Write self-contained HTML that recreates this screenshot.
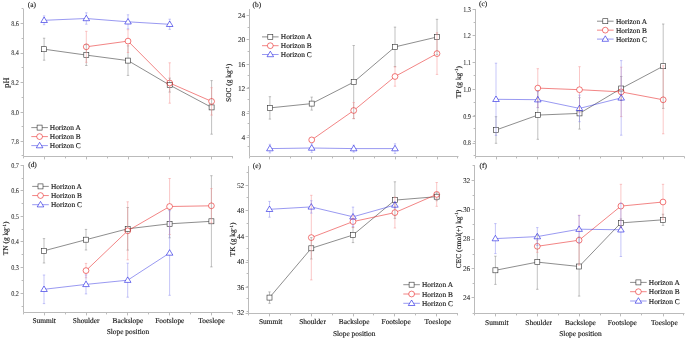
<!DOCTYPE html>
<html><head><meta charset="utf-8"><style>
html,body{margin:0;padding:0;background:#fff;width:685px;height:338px;overflow:hidden}
svg{display:block;text-rendering:geometricPrecision;will-change:transform}
text{font-family:"Liberation Serif", serif;fill:#1a1a1a;stroke:#1a1a1a;stroke-width:0.15px}
text.tl{stroke-width:0.05px;fill:#222;stroke:#222}
</style></head><body>
<svg width="685" height="338" viewBox="0 0 685 338" font-family="'Liberation Serif', serif" font-size="7.4" fill="#222">
<path d="M23.5,9 V156.5 H233" fill="none" stroke="#bbbbbb" stroke-width="1.0"/>
<text class="tl" transform="translate(18.90,26.00) scale(0.84,1)" text-anchor="end">8.6</text>
<text class="tl" transform="translate(18.90,55.40) scale(0.84,1)" text-anchor="end">8.4</text>
<text class="tl" transform="translate(18.90,85.10) scale(0.84,1)" text-anchor="end">8.2</text>
<text class="tl" transform="translate(18.90,114.80) scale(0.84,1)" text-anchor="end">8.0</text>
<text class="tl" transform="translate(18.90,143.80) scale(0.84,1)" text-anchor="end">7.8</text>
<path d="M23.5,23.50 h-2.9 M23.5,53.50 h-2.9 M23.5,82.50 h-2.9 M23.5,112.50 h-2.9 M23.5,141.50 h-2.9 M23.5,8.50 h-1.9 M23.5,38.50 h-1.9 M23.5,67.50 h-1.9 M23.5,97.50 h-1.9 M23.5,126.50 h-1.9 M23.5,155.50 h-1.9 M44.50,156.5 v2.9 M86.50,156.5 v2.9 M128.50,156.5 v2.9 M169.50,156.5 v2.9 M211.50,156.5 v2.9 M65.50,156.5 v1.9 M107.50,156.5 v1.9 M148.50,156.5 v1.9 M190.50,156.5 v1.9 M232.50,156.5 v1.9 M23.5,156.5 v1.9" stroke="#bbbbbb" stroke-width="1.0"/>
<text transform="translate(8.60,82.50) rotate(-90)" text-anchor="middle"><tspan font-size="8.4">pH</tspan></text>
<text x="27.8" y="7.0">(a)</text>
<mask id="maA" maskUnits="userSpaceOnUse" x="0" y="0" width="685" height="338"><rect width="685" height="338" fill="#fff"/><rect x="41.60" y="46.70" width="5.0" height="5.0" fill="#000"/><rect x="83.80" y="52.60" width="5.0" height="5.0" fill="#000"/><rect x="125.50" y="58.10" width="5.0" height="5.0" fill="#000"/><rect x="167.20" y="82.60" width="5.0" height="5.0" fill="#000"/><rect x="209.10" y="104.90" width="5.0" height="5.0" fill="#000"/><rect x="37.10" y="125.10" width="5.0" height="5.0" fill="#000"/></mask>
<g mask="url(#maA)">
<path d="M44.10,38.20 V60.20 M42.90,38.20 h2.4 M42.90,60.20 h2.4 M86.30,44.70 V65.50 M85.10,44.70 h2.4 M85.10,65.50 h2.4 M128.00,45.80 V75.40 M126.80,45.80 h2.4 M126.80,75.40 h2.4 M169.70,78.10 V92.10 M168.50,78.10 h2.4 M168.50,92.10 h2.4 M211.60,80.60 V134.20 M210.40,80.60 h2.4 M210.40,134.20 h2.4" stroke="#838383" stroke-width="0.5" fill="none"/>
<polyline points="44.10,49.20 86.30,55.10 128.00,60.60 169.70,85.10 211.60,107.40" fill="none" stroke="#303030" stroke-width="0.55"/>
<path d="M31.30,127.60 h16.6" stroke="#303030" stroke-width="0.55"/>
</g>
<rect x="41.60" y="46.70" width="5.0" height="5.0" fill="none" stroke="#303030" stroke-width="0.6"/>
<rect x="83.80" y="52.60" width="5.0" height="5.0" fill="none" stroke="#303030" stroke-width="0.6"/>
<rect x="125.50" y="58.10" width="5.0" height="5.0" fill="none" stroke="#303030" stroke-width="0.6"/>
<rect x="167.20" y="82.60" width="5.0" height="5.0" fill="none" stroke="#303030" stroke-width="0.6"/>
<rect x="209.10" y="104.90" width="5.0" height="5.0" fill="none" stroke="#303030" stroke-width="0.6"/>
<rect x="37.10" y="125.10" width="5.0" height="5.0" fill="none" stroke="#303030" stroke-width="0.6"/>
<mask id="maB" maskUnits="userSpaceOnUse" x="0" y="0" width="685" height="338"><rect width="685" height="338" fill="#fff"/><circle cx="86.30" cy="46.80" r="2.9" fill="#000"/><circle cx="128.00" cy="41.10" r="2.9" fill="#000"/><circle cx="169.70" cy="83.00" r="2.9" fill="#000"/><circle cx="211.60" cy="101.40" r="2.9" fill="#000"/><circle cx="39.60" cy="136.60" r="2.9" fill="#000"/></mask>
<g mask="url(#maB)">
<path d="M86.30,31.30 V62.30 M85.10,31.30 h2.4 M85.10,62.30 h2.4 M128.00,29.70 V52.50 M126.80,29.70 h2.4 M126.80,52.50 h2.4 M169.70,62.80 V103.20 M168.50,62.80 h2.4 M168.50,103.20 h2.4 M211.60,87.70 V115.10 M210.40,87.70 h2.4 M210.40,115.10 h2.4" stroke="#f48f8f" stroke-width="0.5" fill="none"/>
<polyline points="86.30,46.80 128.00,41.10 169.70,83.00 211.60,101.40" fill="none" stroke="#e82020" stroke-width="0.55"/>
<path d="M31.30,136.60 h16.6" stroke="#e82020" stroke-width="0.55"/>
</g>
<circle cx="86.30" cy="46.80" r="2.9" fill="none" stroke="#e82020" stroke-width="0.6"/>
<circle cx="128.00" cy="41.10" r="2.9" fill="none" stroke="#e82020" stroke-width="0.6"/>
<circle cx="169.70" cy="83.00" r="2.9" fill="none" stroke="#e82020" stroke-width="0.6"/>
<circle cx="211.60" cy="101.40" r="2.9" fill="none" stroke="#e82020" stroke-width="0.6"/>
<circle cx="39.60" cy="136.60" r="2.9" fill="none" stroke="#e82020" stroke-width="0.6"/>
<mask id="maC" maskUnits="userSpaceOnUse" x="0" y="0" width="685" height="338"><rect width="685" height="338" fill="#fff"/><path d="M44.10,17.00 L47.40,22.50 L40.80,22.50 Z" fill="#000"/><path d="M86.30,15.20 L89.60,20.70 L83.00,20.70 Z" fill="#000"/><path d="M128.00,18.50 L131.30,24.00 L124.70,24.00 Z" fill="#000"/><path d="M169.70,21.00 L173.00,26.50 L166.40,26.50 Z" fill="#000"/><path d="M39.60,142.30 L42.90,147.80 L36.30,147.80 Z" fill="#000"/></mask>
<g mask="url(#maC)">
<path d="M44.10,15.90 V24.70 M42.90,15.90 h2.4 M42.90,24.70 h2.4 M86.30,12.80 V24.20 M85.10,12.80 h2.4 M85.10,24.20 h2.4 M128.00,14.80 V28.80 M126.80,14.80 h2.4 M126.80,28.80 h2.4 M169.70,19.20 V29.40 M168.50,19.20 h2.4 M168.50,29.40 h2.4" stroke="#8c8cf0" stroke-width="0.5" fill="none"/>
<polyline points="44.10,20.30 86.30,18.50 128.00,21.80 169.70,24.30" fill="none" stroke="#1a1ae0" stroke-width="0.45"/>
<path d="M31.30,145.60 h16.6" stroke="#1a1ae0" stroke-width="0.45"/>
</g>
<path d="M44.10,17.00 L47.40,22.50 L40.80,22.50 Z" fill="none" stroke="#1a1ae0" stroke-width="0.6"/>
<path d="M86.30,15.20 L89.60,20.70 L83.00,20.70 Z" fill="none" stroke="#1a1ae0" stroke-width="0.6"/>
<path d="M128.00,18.50 L131.30,24.00 L124.70,24.00 Z" fill="none" stroke="#1a1ae0" stroke-width="0.6"/>
<path d="M169.70,21.00 L173.00,26.50 L166.40,26.50 Z" fill="none" stroke="#1a1ae0" stroke-width="0.6"/>
<path d="M39.60,142.30 L42.90,147.80 L36.30,147.80 Z" fill="none" stroke="#1a1ae0" stroke-width="0.6"/>
<text x="49.8" y="130.10">Horizon A</text>
<text x="49.8" y="139.10">Horizon B</text>
<text x="49.8" y="148.10">Horizon C</text>
<path d="M249.5,9 V156.5 H458.5" fill="none" stroke="#bbbbbb" stroke-width="1.0"/>
<text class="tl" x="245.30" y="17.90" text-anchor="end">24</text>
<text class="tl" x="245.30" y="41.80" text-anchor="end">20</text>
<text class="tl" x="245.30" y="66.60" text-anchor="end">16</text>
<text class="tl" x="245.30" y="91.00" text-anchor="end">12</text>
<text class="tl" x="245.30" y="115.50" text-anchor="end">8</text>
<text class="tl" x="245.30" y="139.90" text-anchor="end">4</text>
<path d="M249.5,15.50 h-2.9 M249.5,39.50 h-2.9 M249.5,64.50 h-2.9 M249.5,88.50 h-2.9 M249.5,113.50 h-2.9 M249.5,137.50 h-2.9 M249.5,27.50 h-1.9 M249.5,51.50 h-1.9 M249.5,75.50 h-1.9 M249.5,87.50 h-1.9 M249.5,99.50 h-1.9 M249.5,111.50 h-1.9 M249.5,123.50 h-1.9 M249.5,135.50 h-1.9 M249.5,146.50 h-1.9 M269.50,156.5 v2.9 M311.50,156.5 v2.9 M353.50,156.5 v2.9 M395.50,156.5 v2.9 M437.50,156.5 v2.9 M290.50,156.5 v1.9 M332.50,156.5 v1.9 M374.50,156.5 v1.9 M416.50,156.5 v1.9 M457.50,156.5 v1.9 M249.5,156.5 v1.9" stroke="#bbbbbb" stroke-width="1.0"/>
<text transform="translate(231.20,82.80) rotate(-90)" text-anchor="middle">SOC (g kg<tspan dy="-2.5" font-size="5">-1</tspan><tspan dy="2.5">)</tspan></text>
<text x="252.5" y="6.8">(b)</text>
<mask id="mbA" maskUnits="userSpaceOnUse" x="0" y="0" width="685" height="338"><rect width="685" height="338" fill="#fff"/><rect x="267.40" y="105.40" width="5.0" height="5.0" fill="#000"/><rect x="309.20" y="101.10" width="5.0" height="5.0" fill="#000"/><rect x="351.20" y="79.60" width="5.0" height="5.0" fill="#000"/><rect x="392.50" y="44.40" width="5.0" height="5.0" fill="#000"/><rect x="434.50" y="34.50" width="5.0" height="5.0" fill="#000"/><rect x="267.80" y="34.40" width="5.0" height="5.0" fill="#000"/></mask>
<g mask="url(#mbA)">
<path d="M269.90,96.70 V119.10 M268.70,96.70 h2.4 M268.70,119.10 h2.4 M311.70,97.10 V110.10 M310.50,97.10 h2.4 M310.50,110.10 h2.4 M353.70,45.50 V118.70 M352.50,45.50 h2.4 M352.50,118.70 h2.4 M395.00,27.10 V66.70 M393.80,27.10 h2.4 M393.80,66.70 h2.4 M437.00,19.30 V54.70 M435.80,19.30 h2.4 M435.80,54.70 h2.4" stroke="#838383" stroke-width="0.5" fill="none"/>
<polyline points="269.90,107.90 311.70,103.60 353.70,82.10 395.00,46.90 437.00,37.00" fill="none" stroke="#303030" stroke-width="0.55"/>
<path d="M262.00,36.90 h16.6" stroke="#303030" stroke-width="0.55"/>
</g>
<rect x="267.40" y="105.40" width="5.0" height="5.0" fill="none" stroke="#303030" stroke-width="0.6"/>
<rect x="309.20" y="101.10" width="5.0" height="5.0" fill="none" stroke="#303030" stroke-width="0.6"/>
<rect x="351.20" y="79.60" width="5.0" height="5.0" fill="none" stroke="#303030" stroke-width="0.6"/>
<rect x="392.50" y="44.40" width="5.0" height="5.0" fill="none" stroke="#303030" stroke-width="0.6"/>
<rect x="434.50" y="34.50" width="5.0" height="5.0" fill="none" stroke="#303030" stroke-width="0.6"/>
<rect x="267.80" y="34.40" width="5.0" height="5.0" fill="none" stroke="#303030" stroke-width="0.6"/>
<mask id="mbB" maskUnits="userSpaceOnUse" x="0" y="0" width="685" height="338"><rect width="685" height="338" fill="#fff"/><circle cx="311.70" cy="139.90" r="2.9" fill="#000"/><circle cx="353.70" cy="110.50" r="2.9" fill="#000"/><circle cx="395.00" cy="76.50" r="2.9" fill="#000"/><circle cx="437.00" cy="53.60" r="2.9" fill="#000"/><circle cx="270.30" cy="45.70" r="2.9" fill="#000"/></mask>
<g mask="url(#mbB)">
<path d="M311.70,138.90 V140.90 M310.50,138.90 h2.4 M310.50,140.90 h2.4 M353.70,102.50 V118.50 M352.50,102.50 h2.4 M352.50,118.50 h2.4 M395.00,66.80 V86.20 M393.80,66.80 h2.4 M393.80,86.20 h2.4 M437.00,32.80 V74.40 M435.80,32.80 h2.4 M435.80,74.40 h2.4" stroke="#f48f8f" stroke-width="0.5" fill="none"/>
<polyline points="311.70,139.90 353.70,110.50 395.00,76.50 437.00,53.60" fill="none" stroke="#e82020" stroke-width="0.55"/>
<path d="M262.00,45.70 h16.6" stroke="#e82020" stroke-width="0.55"/>
</g>
<circle cx="311.70" cy="139.90" r="2.9" fill="none" stroke="#e82020" stroke-width="0.6"/>
<circle cx="353.70" cy="110.50" r="2.9" fill="none" stroke="#e82020" stroke-width="0.6"/>
<circle cx="395.00" cy="76.50" r="2.9" fill="none" stroke="#e82020" stroke-width="0.6"/>
<circle cx="437.00" cy="53.60" r="2.9" fill="none" stroke="#e82020" stroke-width="0.6"/>
<circle cx="270.30" cy="45.70" r="2.9" fill="none" stroke="#e82020" stroke-width="0.6"/>
<mask id="mbC" maskUnits="userSpaceOnUse" x="0" y="0" width="685" height="338"><rect width="685" height="338" fill="#fff"/><path d="M269.90,145.30 L273.20,150.80 L266.60,150.80 Z" fill="#000"/><path d="M311.70,144.70 L315.00,150.20 L308.40,150.20 Z" fill="#000"/><path d="M353.70,145.30 L357.00,150.80 L350.40,150.80 Z" fill="#000"/><path d="M395.00,145.30 L398.30,150.80 L391.70,150.80 Z" fill="#000"/><path d="M270.30,51.20 L273.60,56.70 L267.00,56.70 Z" fill="#000"/></mask>
<g mask="url(#mbC)">
<path d="M269.90,144.30 V152.90 M268.70,144.30 h2.4 M268.70,152.90 h2.4 M311.70,143.70 V152.30 M310.50,143.70 h2.4 M310.50,152.30 h2.4 M353.70,145.10 V152.10 M352.50,145.10 h2.4 M352.50,152.10 h2.4 M395.00,143.80 V153.40 M393.80,143.80 h2.4 M393.80,153.40 h2.4" stroke="#8c8cf0" stroke-width="0.5" fill="none"/>
<polyline points="269.90,148.60 311.70,148.00 353.70,148.60 395.00,148.60" fill="none" stroke="#1a1ae0" stroke-width="0.45"/>
<path d="M262.00,54.50 h16.6" stroke="#1a1ae0" stroke-width="0.45"/>
</g>
<path d="M269.90,145.30 L273.20,150.80 L266.60,150.80 Z" fill="none" stroke="#1a1ae0" stroke-width="0.6"/>
<path d="M311.70,144.70 L315.00,150.20 L308.40,150.20 Z" fill="none" stroke="#1a1ae0" stroke-width="0.6"/>
<path d="M353.70,145.30 L357.00,150.80 L350.40,150.80 Z" fill="none" stroke="#1a1ae0" stroke-width="0.6"/>
<path d="M395.00,145.30 L398.30,150.80 L391.70,150.80 Z" fill="none" stroke="#1a1ae0" stroke-width="0.6"/>
<path d="M270.30,51.20 L273.60,56.70 L267.00,56.70 Z" fill="none" stroke="#1a1ae0" stroke-width="0.6"/>
<text x="280.8" y="39.40">Horizon A</text>
<text x="280.8" y="48.20">Horizon B</text>
<text x="280.8" y="57.00">Horizon C</text>
<path d="M475.5,9 V156.5 H684.5" fill="none" stroke="#bbbbbb" stroke-width="1.0"/>
<text class="tl" transform="translate(470.90,11.70) scale(0.84,1)" text-anchor="end">1.3</text>
<text class="tl" transform="translate(470.90,38.20) scale(0.84,1)" text-anchor="end">1.2</text>
<text class="tl" transform="translate(470.90,64.80) scale(0.84,1)" text-anchor="end">1.1</text>
<text class="tl" transform="translate(470.90,91.60) scale(0.84,1)" text-anchor="end">1.0</text>
<text class="tl" transform="translate(470.90,118.80) scale(0.84,1)" text-anchor="end">0.9</text>
<text class="tl" transform="translate(470.90,145.40) scale(0.84,1)" text-anchor="end">0.8</text>
<path d="M475.5,9.50 h-2.9 M475.5,35.50 h-2.9 M475.5,62.50 h-2.9 M475.5,89.50 h-2.9 M475.5,116.50 h-2.9 M475.5,143.50 h-2.9 M475.5,22.50 h-1.9 M475.5,49.50 h-1.9 M475.5,75.50 h-1.9 M475.5,102.50 h-1.9 M475.5,115.50 h-1.9 M475.5,128.50 h-1.9 M475.5,141.50 h-1.9 M475.5,155.50 h-1.9 M496.50,156.5 v2.9 M537.50,156.5 v2.9 M579.50,156.5 v2.9 M621.50,156.5 v2.9 M663.50,156.5 v2.9 M516.50,156.5 v1.9 M558.50,156.5 v1.9 M600.50,156.5 v1.9 M642.50,156.5 v1.9 M684.50,156.5 v1.9 M475.5,156.5 v1.9" stroke="#bbbbbb" stroke-width="1.0"/>
<text transform="translate(460.70,82.20) rotate(-90)" text-anchor="middle">TP (g kg<tspan dy="-2.5" font-size="5">-1</tspan><tspan dy="2.5">)</tspan></text>
<text x="479.0" y="5.9">(c)</text>
<mask id="mcA" maskUnits="userSpaceOnUse" x="0" y="0" width="685" height="338"><rect width="685" height="338" fill="#fff"/><rect x="493.50" y="127.50" width="5.0" height="5.0" fill="#000"/><rect x="535.30" y="112.60" width="5.0" height="5.0" fill="#000"/><rect x="577.00" y="110.90" width="5.0" height="5.0" fill="#000"/><rect x="618.70" y="86.00" width="5.0" height="5.0" fill="#000"/><rect x="660.70" y="63.70" width="5.0" height="5.0" fill="#000"/><rect x="602.80" y="18.70" width="5.0" height="5.0" fill="#000"/></mask>
<g mask="url(#mcA)">
<path d="M496.00,116.70 V143.30 M494.80,116.70 h2.4 M494.80,143.30 h2.4 M537.80,90.90 V139.30 M536.60,90.90 h2.4 M536.60,139.30 h2.4 M579.50,97.70 V129.10 M578.30,97.70 h2.4 M578.30,129.10 h2.4 M621.20,76.50 V100.50 M620.00,76.50 h2.4 M620.00,100.50 h2.4 M663.20,24.00 V108.40 M662.00,24.00 h2.4 M662.00,108.40 h2.4" stroke="#838383" stroke-width="0.5" fill="none"/>
<polyline points="496.00,130.00 537.80,115.10 579.50,113.40 621.20,88.50 663.20,66.20" fill="none" stroke="#303030" stroke-width="0.55"/>
<path d="M597.00,21.20 h16.6" stroke="#303030" stroke-width="0.55"/>
</g>
<rect x="493.50" y="127.50" width="5.0" height="5.0" fill="none" stroke="#303030" stroke-width="0.6"/>
<rect x="535.30" y="112.60" width="5.0" height="5.0" fill="none" stroke="#303030" stroke-width="0.6"/>
<rect x="577.00" y="110.90" width="5.0" height="5.0" fill="none" stroke="#303030" stroke-width="0.6"/>
<rect x="618.70" y="86.00" width="5.0" height="5.0" fill="none" stroke="#303030" stroke-width="0.6"/>
<rect x="660.70" y="63.70" width="5.0" height="5.0" fill="none" stroke="#303030" stroke-width="0.6"/>
<rect x="602.80" y="18.70" width="5.0" height="5.0" fill="none" stroke="#303030" stroke-width="0.6"/>
<mask id="mcB" maskUnits="userSpaceOnUse" x="0" y="0" width="685" height="338"><rect width="685" height="338" fill="#fff"/><circle cx="537.80" cy="88.10" r="2.9" fill="#000"/><circle cx="579.50" cy="89.70" r="2.9" fill="#000"/><circle cx="621.20" cy="91.90" r="2.9" fill="#000"/><circle cx="663.20" cy="99.80" r="2.9" fill="#000"/><circle cx="605.30" cy="30.15" r="2.9" fill="#000"/></mask>
<g mask="url(#mcB)">
<path d="M537.80,68.70 V107.50 M536.60,68.70 h2.4 M536.60,107.50 h2.4 M579.50,66.70 V112.70 M578.30,66.70 h2.4 M578.30,112.70 h2.4 M621.20,67.20 V116.60 M620.00,67.20 h2.4 M620.00,116.60 h2.4 M663.20,65.80 V133.80 M662.00,65.80 h2.4 M662.00,133.80 h2.4" stroke="#f48f8f" stroke-width="0.5" fill="none"/>
<polyline points="537.80,88.10 579.50,89.70 621.20,91.90 663.20,99.80" fill="none" stroke="#e82020" stroke-width="0.55"/>
<path d="M597.00,30.15 h16.6" stroke="#e82020" stroke-width="0.55"/>
</g>
<circle cx="537.80" cy="88.10" r="2.9" fill="none" stroke="#e82020" stroke-width="0.6"/>
<circle cx="579.50" cy="89.70" r="2.9" fill="none" stroke="#e82020" stroke-width="0.6"/>
<circle cx="621.20" cy="91.90" r="2.9" fill="none" stroke="#e82020" stroke-width="0.6"/>
<circle cx="663.20" cy="99.80" r="2.9" fill="none" stroke="#e82020" stroke-width="0.6"/>
<circle cx="605.30" cy="30.15" r="2.9" fill="none" stroke="#e82020" stroke-width="0.6"/>
<mask id="mcC" maskUnits="userSpaceOnUse" x="0" y="0" width="685" height="338"><rect width="685" height="338" fill="#fff"/><path d="M496.00,96.00 L499.30,101.50 L492.70,101.50 Z" fill="#000"/><path d="M537.80,96.40 L541.10,101.90 L534.50,101.90 Z" fill="#000"/><path d="M579.50,105.10 L582.80,110.60 L576.20,110.60 Z" fill="#000"/><path d="M621.20,94.60 L624.50,100.10 L617.90,100.10 Z" fill="#000"/><path d="M605.30,35.80 L608.60,41.30 L602.00,41.30 Z" fill="#000"/></mask>
<g mask="url(#mcC)">
<path d="M496.00,63.20 V135.40 M494.80,63.20 h2.4 M494.80,135.40 h2.4 M537.80,91.70 V107.70 M536.60,91.70 h2.4 M536.60,107.70 h2.4 M579.50,95.10 V121.70 M578.30,95.10 h2.4 M578.30,121.70 h2.4 M621.20,60.60 V135.20 M620.00,60.60 h2.4 M620.00,135.20 h2.4" stroke="#8c8cf0" stroke-width="0.5" fill="none"/>
<polyline points="496.00,99.30 537.80,99.70 579.50,108.40 621.20,97.90" fill="none" stroke="#1a1ae0" stroke-width="0.45"/>
<path d="M597.00,39.10 h16.6" stroke="#1a1ae0" stroke-width="0.45"/>
</g>
<path d="M496.00,96.00 L499.30,101.50 L492.70,101.50 Z" fill="none" stroke="#1a1ae0" stroke-width="0.6"/>
<path d="M537.80,96.40 L541.10,101.90 L534.50,101.90 Z" fill="none" stroke="#1a1ae0" stroke-width="0.6"/>
<path d="M579.50,105.10 L582.80,110.60 L576.20,110.60 Z" fill="none" stroke="#1a1ae0" stroke-width="0.6"/>
<path d="M621.20,94.60 L624.50,100.10 L617.90,100.10 Z" fill="none" stroke="#1a1ae0" stroke-width="0.6"/>
<path d="M605.30,35.80 L608.60,41.30 L602.00,41.30 Z" fill="none" stroke="#1a1ae0" stroke-width="0.6"/>
<text x="616" y="23.70">Horizon A</text>
<text x="616" y="32.65">Horizon B</text>
<text x="616" y="41.60">Horizon C</text>
<path d="M23.5,165 V312.5 H233" fill="none" stroke="#bbbbbb" stroke-width="1.0"/>
<text class="tl" transform="translate(18.90,167.60) scale(0.84,1)" text-anchor="end">0.7</text>
<text class="tl" transform="translate(18.90,193.20) scale(0.84,1)" text-anchor="end">0.6</text>
<text class="tl" transform="translate(18.90,218.90) scale(0.84,1)" text-anchor="end">0.5</text>
<text class="tl" transform="translate(18.90,244.30) scale(0.84,1)" text-anchor="end">0.4</text>
<text class="tl" transform="translate(18.90,270.00) scale(0.84,1)" text-anchor="end">0.3</text>
<text class="tl" transform="translate(18.90,296.00) scale(0.84,1)" text-anchor="end">0.2</text>
<path d="M23.5,165.50 h-2.9 M23.5,190.50 h-2.9 M23.5,216.50 h-2.9 M23.5,241.50 h-2.9 M23.5,267.50 h-2.9 M23.5,293.50 h-2.9 M23.5,178.50 h-1.9 M23.5,203.50 h-1.9 M23.5,229.50 h-1.9 M23.5,254.50 h-1.9 M23.5,280.50 h-1.9 M23.5,306.50 h-1.9 M44.50,312.5 v2.9 M86.50,312.5 v2.9 M127.50,312.5 v2.9 M169.50,312.5 v2.9 M211.50,312.5 v2.9 M65.50,312.5 v1.9 M106.50,312.5 v1.9 M148.50,312.5 v1.9 M190.50,312.5 v1.9 M232.50,312.5 v1.9 M23.5,312.5 v1.9" stroke="#bbbbbb" stroke-width="1.0"/>
<text x="44.20" y="323.00" text-anchor="middle">Summit</text>
<text x="86.20" y="323.00" text-anchor="middle">Shoulder</text>
<text x="127.90" y="323.00" text-anchor="middle">Backslope</text>
<text x="169.80" y="323.00" text-anchor="middle">Footslope</text>
<text x="211.60" y="323.00" text-anchor="middle">Toeslope</text>
<text x="127.90" y="334.30" text-anchor="middle">Slope position</text>
<text transform="translate(8.30,238.40) rotate(-90)" text-anchor="middle">TN (g kg<tspan dy="-2.5" font-size="5">-1</tspan><tspan dy="2.5">)</tspan></text>
<text x="28.2" y="167.4">(d)</text>
<mask id="mdA" maskUnits="userSpaceOnUse" x="0" y="0" width="685" height="338"><rect width="685" height="338" fill="#fff"/><rect x="41.50" y="248.30" width="5.0" height="5.0" fill="#000"/><rect x="83.50" y="237.20" width="5.0" height="5.0" fill="#000"/><rect x="125.20" y="226.30" width="5.0" height="5.0" fill="#000"/><rect x="167.10" y="221.30" width="5.0" height="5.0" fill="#000"/><rect x="208.90" y="218.80" width="5.0" height="5.0" fill="#000"/><rect x="38.00" y="183.90" width="5.0" height="5.0" fill="#000"/></mask>
<g mask="url(#mdA)">
<path d="M44.00,238.60 V263.00 M42.80,238.60 h2.4 M42.80,263.00 h2.4 M86.00,229.40 V250.00 M84.80,229.40 h2.4 M84.80,250.00 h2.4 M127.70,207.50 V250.10 M126.50,207.50 h2.4 M126.50,250.10 h2.4 M169.60,209.80 V237.80 M168.40,209.80 h2.4 M168.40,237.80 h2.4 M211.40,175.70 V266.90 M210.20,175.70 h2.4 M210.20,266.90 h2.4" stroke="#838383" stroke-width="0.5" fill="none"/>
<polyline points="44.00,250.80 86.00,239.70 127.70,228.80 169.60,223.80 211.40,221.30" fill="none" stroke="#303030" stroke-width="0.55"/>
<path d="M32.20,186.40 h16.6" stroke="#303030" stroke-width="0.55"/>
</g>
<rect x="41.50" y="248.30" width="5.0" height="5.0" fill="none" stroke="#303030" stroke-width="0.6"/>
<rect x="83.50" y="237.20" width="5.0" height="5.0" fill="none" stroke="#303030" stroke-width="0.6"/>
<rect x="125.20" y="226.30" width="5.0" height="5.0" fill="none" stroke="#303030" stroke-width="0.6"/>
<rect x="167.10" y="221.30" width="5.0" height="5.0" fill="none" stroke="#303030" stroke-width="0.6"/>
<rect x="208.90" y="218.80" width="5.0" height="5.0" fill="none" stroke="#303030" stroke-width="0.6"/>
<rect x="38.00" y="183.90" width="5.0" height="5.0" fill="none" stroke="#303030" stroke-width="0.6"/>
<mask id="mdB" maskUnits="userSpaceOnUse" x="0" y="0" width="685" height="338"><rect width="685" height="338" fill="#fff"/><circle cx="86.00" cy="270.60" r="2.9" fill="#000"/><circle cx="127.70" cy="230.80" r="2.9" fill="#000"/><circle cx="169.60" cy="206.50" r="2.9" fill="#000"/><circle cx="211.40" cy="205.80" r="2.9" fill="#000"/><circle cx="40.50" cy="195.55" r="2.9" fill="#000"/></mask>
<g mask="url(#mdB)">
<path d="M86.00,263.40 V277.80 M84.80,263.40 h2.4 M84.80,277.80 h2.4 M127.70,201.80 V259.80 M126.50,201.80 h2.4 M126.50,259.80 h2.4 M169.60,178.50 V234.50 M168.40,178.50 h2.4 M168.40,234.50 h2.4 M211.40,188.60 V223.00 M210.20,188.60 h2.4 M210.20,223.00 h2.4" stroke="#f48f8f" stroke-width="0.5" fill="none"/>
<polyline points="86.00,270.60 127.70,230.80 169.60,206.50 211.40,205.80" fill="none" stroke="#e82020" stroke-width="0.55"/>
<path d="M32.20,195.55 h16.6" stroke="#e82020" stroke-width="0.55"/>
</g>
<circle cx="86.00" cy="270.60" r="2.9" fill="none" stroke="#e82020" stroke-width="0.6"/>
<circle cx="127.70" cy="230.80" r="2.9" fill="none" stroke="#e82020" stroke-width="0.6"/>
<circle cx="169.60" cy="206.50" r="2.9" fill="none" stroke="#e82020" stroke-width="0.6"/>
<circle cx="211.40" cy="205.80" r="2.9" fill="none" stroke="#e82020" stroke-width="0.6"/>
<circle cx="40.50" cy="195.55" r="2.9" fill="none" stroke="#e82020" stroke-width="0.6"/>
<mask id="mdC" maskUnits="userSpaceOnUse" x="0" y="0" width="685" height="338"><rect width="685" height="338" fill="#fff"/><path d="M44.00,286.00 L47.30,291.50 L40.70,291.50 Z" fill="#000"/><path d="M86.00,281.10 L89.30,286.60 L82.70,286.60 Z" fill="#000"/><path d="M127.70,276.90 L131.00,282.40 L124.40,282.40 Z" fill="#000"/><path d="M169.60,249.70 L172.90,255.20 L166.30,255.20 Z" fill="#000"/><path d="M40.50,201.40 L43.80,206.90 L37.20,206.90 Z" fill="#000"/></mask>
<g mask="url(#mdC)">
<path d="M44.00,275.00 V303.60 M42.80,275.00 h2.4 M42.80,303.60 h2.4 M86.00,274.90 V293.90 M84.80,274.90 h2.4 M84.80,293.90 h2.4 M127.70,263.20 V297.20 M126.50,263.20 h2.4 M126.50,297.20 h2.4 M169.60,210.70 V295.30 M168.40,210.70 h2.4 M168.40,295.30 h2.4" stroke="#8c8cf0" stroke-width="0.5" fill="none"/>
<polyline points="44.00,289.30 86.00,284.40 127.70,280.20 169.60,253.00" fill="none" stroke="#1a1ae0" stroke-width="0.45"/>
<path d="M32.20,204.70 h16.6" stroke="#1a1ae0" stroke-width="0.45"/>
</g>
<path d="M44.00,286.00 L47.30,291.50 L40.70,291.50 Z" fill="none" stroke="#1a1ae0" stroke-width="0.6"/>
<path d="M86.00,281.10 L89.30,286.60 L82.70,286.60 Z" fill="none" stroke="#1a1ae0" stroke-width="0.6"/>
<path d="M127.70,276.90 L131.00,282.40 L124.40,282.40 Z" fill="none" stroke="#1a1ae0" stroke-width="0.6"/>
<path d="M169.60,249.70 L172.90,255.20 L166.30,255.20 Z" fill="none" stroke="#1a1ae0" stroke-width="0.6"/>
<path d="M40.50,201.40 L43.80,206.90 L37.20,206.90 Z" fill="none" stroke="#1a1ae0" stroke-width="0.6"/>
<text x="50.9" y="188.90">Horizon A</text>
<text x="50.9" y="198.05">Horizon B</text>
<text x="50.9" y="207.20">Horizon C</text>
<path d="M248.5,166 V313.5 H458" fill="none" stroke="#bbbbbb" stroke-width="1.0"/>
<text class="tl" x="244.30" y="187.70" text-anchor="end">52</text>
<text class="tl" x="244.30" y="212.90" text-anchor="end">48</text>
<text class="tl" x="244.30" y="238.90" text-anchor="end">44</text>
<text class="tl" x="244.30" y="264.40" text-anchor="end">40</text>
<text class="tl" x="244.30" y="290.00" text-anchor="end">36</text>
<text class="tl" x="244.30" y="315.40" text-anchor="end">32</text>
<path d="M248.5,185.50 h-2.9 M248.5,210.50 h-2.9 M248.5,236.50 h-2.9 M248.5,262.50 h-2.9 M248.5,287.50 h-2.9 M248.5,313.50 h-2.9 M248.5,172.50 h-1.9 M248.5,197.50 h-1.9 M248.5,223.50 h-1.9 M248.5,248.50 h-1.9 M248.5,260.50 h-1.9 M248.5,273.50 h-1.9 M248.5,286.50 h-1.9 M248.5,298.50 h-1.9 M248.5,311.50 h-1.9 M269.50,313.5 v2.9 M311.50,313.5 v2.9 M353.50,313.5 v2.9 M394.50,313.5 v2.9 M436.50,313.5 v2.9 M290.50,313.5 v1.9 M332.50,313.5 v1.9 M373.50,313.5 v1.9 M415.50,313.5 v1.9 M457.50,313.5 v1.9 M248.5,313.5 v1.9" stroke="#bbbbbb" stroke-width="1.0"/>
<text x="270.70" y="324.20" text-anchor="middle">Summit</text>
<text x="312.50" y="324.20" text-anchor="middle">Shoulder</text>
<text x="354.20" y="324.20" text-anchor="middle">Backslope</text>
<text x="396.10" y="324.20" text-anchor="middle">Footslope</text>
<text x="437.90" y="324.20" text-anchor="middle">Toeslope</text>
<text x="354.20" y="335.50" text-anchor="middle">Slope position</text>
<text transform="translate(235.20,239.50) rotate(-90)" text-anchor="middle">TK (g kg<tspan dy="-2.5" font-size="5">-1</tspan><tspan dy="2.5">)</tspan></text>
<text x="252.8" y="167.6">(e)</text>
<mask id="meA" maskUnits="userSpaceOnUse" x="0" y="0" width="685" height="338"><rect width="685" height="338" fill="#fff"/><rect x="267.00" y="295.10" width="5.0" height="5.0" fill="#000"/><rect x="308.80" y="245.80" width="5.0" height="5.0" fill="#000"/><rect x="350.50" y="232.50" width="5.0" height="5.0" fill="#000"/><rect x="392.40" y="197.60" width="5.0" height="5.0" fill="#000"/><rect x="434.20" y="194.20" width="5.0" height="5.0" fill="#000"/><rect x="409.10" y="282.20" width="5.0" height="5.0" fill="#000"/></mask>
<g mask="url(#meA)">
<path d="M269.50,291.90 V303.30 M268.30,291.90 h2.4 M268.30,303.30 h2.4 M311.30,237.60 V259.00 M310.10,237.60 h2.4 M310.10,259.00 h2.4 M353.00,227.40 V242.60 M351.80,227.40 h2.4 M351.80,242.60 h2.4 M394.90,181.80 V218.40 M393.70,181.80 h2.4 M393.70,218.40 h2.4 M436.70,192.70 V200.70 M435.50,192.70 h2.4 M435.50,200.70 h2.4" stroke="#838383" stroke-width="0.5" fill="none"/>
<polyline points="269.50,297.60 311.30,248.30 353.00,235.00 394.90,200.10 436.70,196.70" fill="none" stroke="#303030" stroke-width="0.55"/>
<path d="M403.30,284.70 h16.6" stroke="#303030" stroke-width="0.55"/>
</g>
<rect x="267.00" y="295.10" width="5.0" height="5.0" fill="none" stroke="#303030" stroke-width="0.6"/>
<rect x="308.80" y="245.80" width="5.0" height="5.0" fill="none" stroke="#303030" stroke-width="0.6"/>
<rect x="350.50" y="232.50" width="5.0" height="5.0" fill="none" stroke="#303030" stroke-width="0.6"/>
<rect x="392.40" y="197.60" width="5.0" height="5.0" fill="none" stroke="#303030" stroke-width="0.6"/>
<rect x="434.20" y="194.20" width="5.0" height="5.0" fill="none" stroke="#303030" stroke-width="0.6"/>
<rect x="409.10" y="282.20" width="5.0" height="5.0" fill="none" stroke="#303030" stroke-width="0.6"/>
<mask id="meB" maskUnits="userSpaceOnUse" x="0" y="0" width="685" height="338"><rect width="685" height="338" fill="#fff"/><circle cx="311.30" cy="237.60" r="2.9" fill="#000"/><circle cx="353.00" cy="221.60" r="2.9" fill="#000"/><circle cx="394.90" cy="212.60" r="2.9" fill="#000"/><circle cx="436.70" cy="194.40" r="2.9" fill="#000"/><circle cx="411.60" cy="294.00" r="2.9" fill="#000"/></mask>
<g mask="url(#meB)">
<path d="M311.30,195.30 V279.90 M310.10,195.30 h2.4 M310.10,279.90 h2.4 M353.00,215.60 V227.60 M351.80,215.60 h2.4 M351.80,227.60 h2.4 M394.90,197.20 V228.00 M393.70,197.20 h2.4 M393.70,228.00 h2.4 M436.70,182.50 V206.30 M435.50,182.50 h2.4 M435.50,206.30 h2.4" stroke="#f48f8f" stroke-width="0.5" fill="none"/>
<polyline points="311.30,237.60 353.00,221.60 394.90,212.60 436.70,194.40" fill="none" stroke="#e82020" stroke-width="0.55"/>
<path d="M403.30,294.00 h16.6" stroke="#e82020" stroke-width="0.55"/>
</g>
<circle cx="311.30" cy="237.60" r="2.9" fill="none" stroke="#e82020" stroke-width="0.6"/>
<circle cx="353.00" cy="221.60" r="2.9" fill="none" stroke="#e82020" stroke-width="0.6"/>
<circle cx="394.90" cy="212.60" r="2.9" fill="none" stroke="#e82020" stroke-width="0.6"/>
<circle cx="436.70" cy="194.40" r="2.9" fill="none" stroke="#e82020" stroke-width="0.6"/>
<circle cx="411.60" cy="294.00" r="2.9" fill="none" stroke="#e82020" stroke-width="0.6"/>
<mask id="meC" maskUnits="userSpaceOnUse" x="0" y="0" width="685" height="338"><rect width="685" height="338" fill="#fff"/><path d="M269.50,206.00 L272.80,211.50 L266.20,211.50 Z" fill="#000"/><path d="M311.30,203.60 L314.60,209.10 L308.00,209.10 Z" fill="#000"/><path d="M353.00,213.50 L356.30,219.00 L349.70,219.00 Z" fill="#000"/><path d="M394.90,201.70 L398.20,207.20 L391.60,207.20 Z" fill="#000"/><path d="M411.60,300.00 L414.90,305.50 L408.30,305.50 Z" fill="#000"/></mask>
<g mask="url(#meC)">
<path d="M269.50,201.40 V217.20 M268.30,201.40 h2.4 M268.30,217.20 h2.4 M311.30,200.70 V213.10 M310.10,200.70 h2.4 M310.10,213.10 h2.4 M353.00,207.10 V226.50 M351.80,207.10 h2.4 M351.80,226.50 h2.4 M394.90,202.00 V208.00 M393.70,202.00 h2.4 M393.70,208.00 h2.4" stroke="#8c8cf0" stroke-width="0.5" fill="none"/>
<polyline points="269.50,209.30 311.30,206.90 353.00,216.80 394.90,205.00" fill="none" stroke="#1a1ae0" stroke-width="0.45"/>
<path d="M403.30,303.30 h16.6" stroke="#1a1ae0" stroke-width="0.45"/>
</g>
<path d="M269.50,206.00 L272.80,211.50 L266.20,211.50 Z" fill="none" stroke="#1a1ae0" stroke-width="0.6"/>
<path d="M311.30,203.60 L314.60,209.10 L308.00,209.10 Z" fill="none" stroke="#1a1ae0" stroke-width="0.6"/>
<path d="M353.00,213.50 L356.30,219.00 L349.70,219.00 Z" fill="none" stroke="#1a1ae0" stroke-width="0.6"/>
<path d="M394.90,201.70 L398.20,207.20 L391.60,207.20 Z" fill="none" stroke="#1a1ae0" stroke-width="0.6"/>
<path d="M411.60,300.00 L414.90,305.50 L408.30,305.50 Z" fill="none" stroke="#1a1ae0" stroke-width="0.6"/>
<text x="422" y="287.20">Horizon A</text>
<text x="422" y="296.50">Horizon B</text>
<text x="422" y="305.80">Horizon C</text>
<path d="M474.5,165 V313.5 H684.5" fill="none" stroke="#bbbbbb" stroke-width="1.0"/>
<text class="tl" x="470.30" y="182.70" text-anchor="end">32</text>
<text class="tl" x="470.30" y="212.20" text-anchor="end">30</text>
<text class="tl" x="470.30" y="241.40" text-anchor="end">28</text>
<text class="tl" x="470.30" y="270.90" text-anchor="end">26</text>
<text class="tl" x="470.30" y="300.00" text-anchor="end">24</text>
<path d="M474.5,180.50 h-2.9 M474.5,209.50 h-2.9 M474.5,239.50 h-2.9 M474.5,268.50 h-2.9 M474.5,297.50 h-2.9 M474.5,165.50 h-1.9 M474.5,195.50 h-1.9 M474.5,224.50 h-1.9 M474.5,254.50 h-1.9 M474.5,283.50 h-1.9 M474.5,313.50 h-1.9 M495.50,313.5 v2.9 M537.50,313.5 v2.9 M579.50,313.5 v2.9 M620.50,313.5 v2.9 M663.50,313.5 v2.9 M516.50,313.5 v1.9 M558.50,313.5 v1.9 M600.50,313.5 v1.9 M641.50,313.5 v1.9 M683.50,313.5 v1.9 M474.5,313.5 v1.9" stroke="#bbbbbb" stroke-width="1.0"/>
<text x="496.80" y="324.50" text-anchor="middle">Summit</text>
<text x="538.70" y="324.50" text-anchor="middle">Shoulder</text>
<text x="580.50" y="324.50" text-anchor="middle">Backslope</text>
<text x="622.30" y="324.50" text-anchor="middle">Footslope</text>
<text x="664.40" y="324.50" text-anchor="middle">Toeslope</text>
<text x="580.50" y="335.80" text-anchor="middle">Slope position</text>
<text transform="translate(460.50,239.00) rotate(-90)" text-anchor="middle">CEC (cmol(+) kg<tspan dy="-2.5" font-size="5">-1</tspan><tspan dy="2.5">)</tspan></text>
<text x="479.5" y="168.2">(f)</text>
<mask id="mfA" maskUnits="userSpaceOnUse" x="0" y="0" width="685" height="338"><rect width="685" height="338" fill="#fff"/><rect x="492.90" y="267.80" width="5.0" height="5.0" fill="#000"/><rect x="534.80" y="259.60" width="5.0" height="5.0" fill="#000"/><rect x="576.60" y="264.00" width="5.0" height="5.0" fill="#000"/><rect x="618.40" y="220.40" width="5.0" height="5.0" fill="#000"/><rect x="660.50" y="217.30" width="5.0" height="5.0" fill="#000"/><rect x="635.90" y="279.90" width="5.0" height="5.0" fill="#000"/></mask>
<g mask="url(#mfA)">
<path d="M495.40,256.20 V284.40 M494.20,256.20 h2.4 M494.20,284.40 h2.4 M537.30,234.90 V289.30 M536.10,234.90 h2.4 M536.10,289.30 h2.4 M579.10,236.90 V296.10 M577.90,236.90 h2.4 M577.90,296.10 h2.4 M620.90,218.90 V226.90 M619.70,218.90 h2.4 M619.70,226.90 h2.4 M663.00,214.20 V225.40 M661.80,214.20 h2.4 M661.80,225.40 h2.4" stroke="#838383" stroke-width="0.5" fill="none"/>
<polyline points="495.40,270.30 537.30,262.10 579.10,266.50 620.90,222.90 663.00,219.80" fill="none" stroke="#303030" stroke-width="0.55"/>
<path d="M630.10,282.40 h16.6" stroke="#303030" stroke-width="0.55"/>
</g>
<rect x="492.90" y="267.80" width="5.0" height="5.0" fill="none" stroke="#303030" stroke-width="0.6"/>
<rect x="534.80" y="259.60" width="5.0" height="5.0" fill="none" stroke="#303030" stroke-width="0.6"/>
<rect x="576.60" y="264.00" width="5.0" height="5.0" fill="none" stroke="#303030" stroke-width="0.6"/>
<rect x="618.40" y="220.40" width="5.0" height="5.0" fill="none" stroke="#303030" stroke-width="0.6"/>
<rect x="660.50" y="217.30" width="5.0" height="5.0" fill="none" stroke="#303030" stroke-width="0.6"/>
<rect x="635.90" y="279.90" width="5.0" height="5.0" fill="none" stroke="#303030" stroke-width="0.6"/>
<mask id="mfB" maskUnits="userSpaceOnUse" x="0" y="0" width="685" height="338"><rect width="685" height="338" fill="#fff"/><circle cx="537.30" cy="246.30" r="2.9" fill="#000"/><circle cx="579.10" cy="240.20" r="2.9" fill="#000"/><circle cx="620.90" cy="206.10" r="2.9" fill="#000"/><circle cx="663.00" cy="202.00" r="2.9" fill="#000"/><circle cx="638.40" cy="291.70" r="2.9" fill="#000"/></mask>
<g mask="url(#mfB)">
<path d="M537.30,240.30 V252.30 M536.10,240.30 h2.4 M536.10,252.30 h2.4 M579.10,215.20 V265.20 M577.90,215.20 h2.4 M577.90,265.20 h2.4 M620.90,184.30 V227.90 M619.70,184.30 h2.4 M619.70,227.90 h2.4 M663.00,184.30 V219.70 M661.80,184.30 h2.4 M661.80,219.70 h2.4" stroke="#f48f8f" stroke-width="0.5" fill="none"/>
<polyline points="537.30,246.30 579.10,240.20 620.90,206.10 663.00,202.00" fill="none" stroke="#e82020" stroke-width="0.55"/>
<path d="M630.10,291.70 h16.6" stroke="#e82020" stroke-width="0.55"/>
</g>
<circle cx="537.30" cy="246.30" r="2.9" fill="none" stroke="#e82020" stroke-width="0.6"/>
<circle cx="579.10" cy="240.20" r="2.9" fill="none" stroke="#e82020" stroke-width="0.6"/>
<circle cx="620.90" cy="206.10" r="2.9" fill="none" stroke="#e82020" stroke-width="0.6"/>
<circle cx="663.00" cy="202.00" r="2.9" fill="none" stroke="#e82020" stroke-width="0.6"/>
<circle cx="638.40" cy="291.70" r="2.9" fill="none" stroke="#e82020" stroke-width="0.6"/>
<mask id="mfC" maskUnits="userSpaceOnUse" x="0" y="0" width="685" height="338"><rect width="685" height="338" fill="#fff"/><path d="M495.40,235.30 L498.70,240.80 L492.10,240.80 Z" fill="#000"/><path d="M537.30,233.30 L540.60,238.80 L534.00,238.80 Z" fill="#000"/><path d="M579.10,225.90 L582.40,231.40 L575.80,231.40 Z" fill="#000"/><path d="M620.90,226.50 L624.20,232.00 L617.60,232.00 Z" fill="#000"/><path d="M638.40,297.70 L641.70,303.20 L635.10,303.20 Z" fill="#000"/></mask>
<g mask="url(#mfC)">
<path d="M495.40,223.60 V253.60 M494.20,223.60 h2.4 M494.20,253.60 h2.4 M537.30,227.60 V245.60 M536.10,227.60 h2.4 M536.10,245.60 h2.4 M579.10,215.60 V242.80 M577.90,215.60 h2.4 M577.90,242.80 h2.4 M620.90,203.10 V256.50 M619.70,203.10 h2.4 M619.70,256.50 h2.4" stroke="#8c8cf0" stroke-width="0.5" fill="none"/>
<polyline points="495.40,238.60 537.30,236.60 579.10,229.20 620.90,229.80" fill="none" stroke="#1a1ae0" stroke-width="0.45"/>
<path d="M630.10,301.00 h16.6" stroke="#1a1ae0" stroke-width="0.45"/>
</g>
<path d="M495.40,235.30 L498.70,240.80 L492.10,240.80 Z" fill="none" stroke="#1a1ae0" stroke-width="0.6"/>
<path d="M537.30,233.30 L540.60,238.80 L534.00,238.80 Z" fill="none" stroke="#1a1ae0" stroke-width="0.6"/>
<path d="M579.10,225.90 L582.40,231.40 L575.80,231.40 Z" fill="none" stroke="#1a1ae0" stroke-width="0.6"/>
<path d="M620.90,226.50 L624.20,232.00 L617.60,232.00 Z" fill="none" stroke="#1a1ae0" stroke-width="0.6"/>
<path d="M638.40,297.70 L641.70,303.20 L635.10,303.20 Z" fill="none" stroke="#1a1ae0" stroke-width="0.6"/>
<text x="648.8" y="284.90">Horizon A</text>
<text x="648.8" y="294.20">Horizon B</text>
<text x="648.8" y="303.50">Horizon C</text>
</svg>
</body></html>
